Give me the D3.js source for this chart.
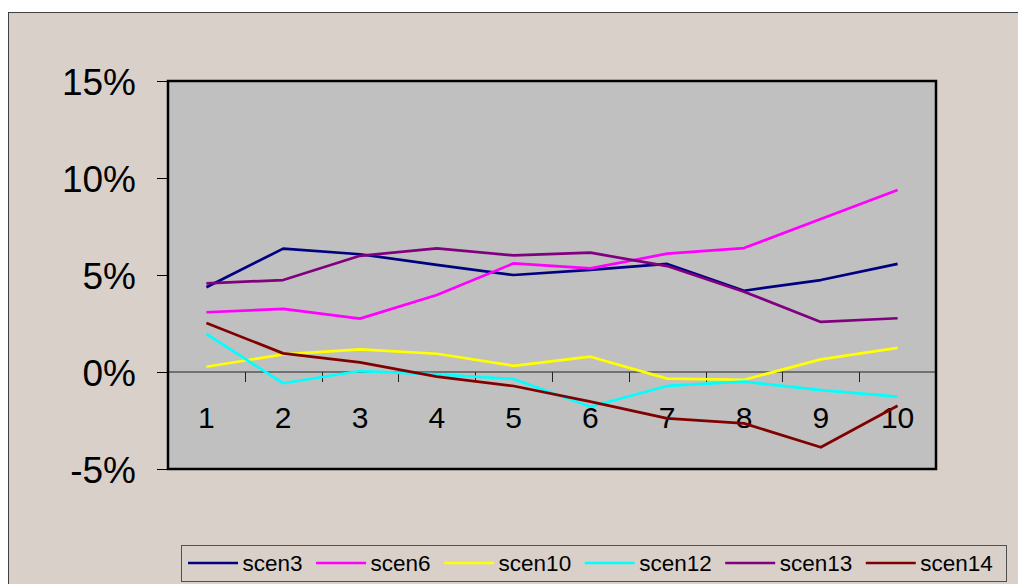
<!DOCTYPE html>
<html>
<head>
<meta charset="utf-8">
<script src="https://cdn.jsdelivr.net/npm/d3@7"></script>
<style>
  html, body { margin: 0; padding: 0; background: #ffffff; }
  svg { display: block; font-family: "Liberation Sans", Arial, sans-serif; }
</style>
</head>
<body>
<svg id="chart" width="1018" height="584"></svg>
<script>
// Scenario returns per period, in percent
const categories = ["1", "2", "3", "4", "5", "6", "7", "8", "9", "10"];
const seriesNames = ["scen3", "scen6", "scen10", "scen12", "scen13", "scen14"];
const seriesColors = ["#000080", "#ff00ff", "#ffff00", "#00ffff", "#800080", "#800000"];
const scen3  = [4.37, 6.36, 6.07, 5.52, 5.00, 5.26, 5.57, 4.19, 4.74, 5.57];
const scen6  = [3.08, 3.25, 2.75, 3.97, 5.60, 5.34, 6.10, 6.39, 7.89, 9.38];
const scen10 = [0.27, 0.91, 1.17, 0.94, 0.32, 0.79, -0.34, -0.40, 0.65, 1.24];
const scen12 = [1.96, -0.58, 0.05, -0.12, -0.36, -1.79, -0.72, -0.50, -0.93, -1.27];
const scen13 = [4.57, 4.74, 5.99, 6.37, 6.01, 6.15, 5.46, 4.14, 2.58, 2.77];
const scen14 = [2.53, 0.96, 0.50, -0.24, -0.72, -1.53, -2.39, -2.65, -3.88, -1.74];
const yTicks = [15, 10, 5, 0, -5];

const seriesValues = [scen3, scen6, scen10, scen12, scen13, scen14];
const series = seriesNames.map((name, i) => ({
  name, color: seriesColors[i],
  values: seriesValues[i].map((v, j) => ({ cat: categories[j], v }))
}));

const svg = d3.select("#chart");

// Chart area background and frame
svg.append("rect")
  .attr("x", 8.5).attr("y", 12.5)
  .attr("width", 1030).attr("height", 600)
  .attr("fill", "#d9d0ca")
  .attr("stroke", "#404040").attr("stroke-width", 1);

const plot = { left: 168, top: 81, right: 936, bottom: 469 };

const x = d3.scaleBand().domain(categories).range([plot.left, plot.right]);
const y = d3.scaleLinear().domain([-5, 15]).range([plot.bottom, plot.top]);

// Plot area
svg.append("rect")
  .attr("x", plot.left).attr("y", plot.top)
  .attr("width", plot.right - plot.left).attr("height", plot.bottom - plot.top)
  .attr("fill", "#c0c0c0");

// Value axis on the left
const yAxis = svg.append("g")
  .attr("transform", `translate(${plot.left},0)`)
  .call(d3.axisLeft(y).tickValues(yTicks).tickSize(11).tickPadding(21)
    .tickFormat(d => d + "%"));
yAxis.select(".domain").remove();
yAxis.selectAll(".tick line").attr("stroke", "#000").attr("stroke-width", 1);
yAxis.selectAll(".tick text")
  .attr("font-size", 37).attr("fill", "#000")
  .attr("font-family", "'Liberation Sans', Arial, sans-serif")
  .attr("dy", "0.36em");

// Category axis along the zero line
const xAxisG = svg.append("g")
  .attr("transform", `translate(0,${y(0)})`);
xAxisG.append("line")
  .attr("x1", plot.left).attr("x2", plot.right)
  .attr("stroke", "#222").attr("stroke-width", 1);
xAxisG.selectAll("line.cat-tick")
  .data(categories.slice(1))
  .join("line")
  .attr("class", "cat-tick")
  .attr("x1", d => Math.round(x(d)) + 0.5).attr("x2", d => Math.round(x(d)) + 0.5)
  .attr("y1", 0).attr("y2", 10)
  .attr("stroke", "#222").attr("stroke-width", 1);
xAxisG.selectAll("text")
  .data(categories)
  .join("text")
  .attr("x", d => x(d) + x.bandwidth() / 2)
  .attr("y", 56)
  .attr("text-anchor", "middle")
  .attr("font-size", 30)
  .attr("fill", "#000")
  .text(d => d);

// Series lines
const line = d3.line()
  .x(d => x(d.cat) + x.bandwidth() / 2)
  .y(d => y(d.v));

svg.append("g")
  .selectAll("path")
  .data(series)
  .join("path")
  .attr("d", d => line(d.values))
  .attr("fill", "none")
  .attr("stroke", d => d.color)
  .attr("stroke-width", 2.7)
  .attr("stroke-linejoin", "round");

// Plot frame on top
svg.append("rect")
  .attr("x", plot.left).attr("y", plot.top)
  .attr("width", plot.right - plot.left).attr("height", plot.bottom - plot.top)
  .attr("fill", "none")
  .attr("stroke", "#000").attr("stroke-width", 2.5);

// Legend
const legend = svg.append("g");
const legendBox = legend.append("rect")
  .attr("fill", "#d9d0ca")
  .attr("stroke", "#505050").attr("stroke-width", 1);
let cursor = 188;
const legendY = 563;
series.forEach(s => {
  legend.append("line")
    .attr("x1", cursor).attr("x2", cursor + 50)
    .attr("y1", legendY).attr("y2", legendY)
    .attr("stroke", s.color).attr("stroke-width", 2.7);
  const t = legend.append("text")
    .attr("x", cursor + 54.5).attr("y", legendY + 8)
    .attr("font-size", 22.5).attr("fill", "#000")
    .text(s.name);
  cursor += 54.5 + t.node().getComputedTextLength() + 13.5;
});
legendBox
  .attr("x", 181.5).attr("y", 545.5)
  .attr("width", Math.round(cursor - 181.5)).attr("height", 36);
</script>
</body>
</html>
